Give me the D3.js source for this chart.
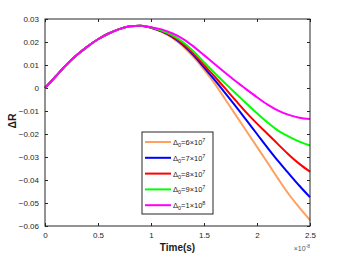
<!DOCTYPE html>
<html>
<head>
<meta charset="utf-8">
<script src="https://d3js.org/d3.v7.min.js"></script>
<style>
  body { margin: 0; background: #fff; }
  text { font-family: "Liberation Sans", Arial, sans-serif; }
</style>
</head>
<body>
<div id="chart"></div>
<script>
// time axis (units of 1e-8 s)
const time = [0, 0.1, 0.2, 0.3, 0.4, 0.5, 0.6, 0.7, 0.8, 0.9, 1.0, 1.1, 1.2, 1.3, 1.4, 1.5, 1.6, 1.7, 1.8, 1.9, 2.0, 2.1, 2.2, 2.3, 2.4, 2.5];

// shared rising part (t = 0 .. 0.9)
const rise = [0, 0.0050, 0.0100, 0.0143, 0.0180, 0.0212, 0.0237, 0.0256, 0.0268, 0.0271];

const d6 = rise.concat([0.0262, 0.0244, 0.0218, 0.0182, 0.0135, 0.0080, 0.0020, -0.0049, -0.0118, -0.0187, -0.0256, -0.0325, -0.0395, -0.0462, -0.0520, -0.0574]);
const d7 = rise.concat([0.0262, 0.0246, 0.0222, 0.0188, 0.0143, 0.0090, 0.0035, -0.0022, -0.0080, -0.0140, -0.0200, -0.0260, -0.0318, -0.0372, -0.0425, -0.0475]);
const d8 = rise.concat([0.0263, 0.0248, 0.0226, 0.0193, 0.0150, 0.0100, 0.0050, -0.0002, -0.0055, -0.0107, -0.0155, -0.0200, -0.0245, -0.0290, -0.0330, -0.0364]);
const d9 = rise.concat([0.0263, 0.0250, 0.0230, 0.0200, 0.0160, 0.0112, 0.0065, 0.0020, -0.0024, -0.0067, -0.0110, -0.0150, -0.0185, -0.0211, -0.0233, -0.0250]);
const d10 = rise.concat([0.0264, 0.0255, 0.0238, 0.0214, 0.0181, 0.0143, 0.0104, 0.0066, 0.0029, -0.0006, -0.0040, -0.0072, -0.0098, -0.0117, -0.0129, -0.0135]);

const mantissa = ["6", "7", "8", "9", "1"];
const exponent = ["7", "7", "7", "7", "8"];
const colors = ["#ffa060", "#0000ff", "#ff0000", "#00ff00", "#ff00ff"];
const seriesData = [d6, d7, d8, d9, d10];

const xTicks = [0, 0.5, 1, 1.5, 2, 2.5];
const yTicks = [0.03, 0.02, 0.01, 0, -0.01, -0.02, -0.03, -0.04, -0.05, -0.06];

const width = 343, height = 255;
const margin = {top: 19, right: 33, bottom: 29, left: 45};

const svg = d3.select("#chart").append("svg")
  .attr("width", width).attr("height", height);

const x = d3.scaleLinear().domain([0, 2.5]).range([margin.left, width - margin.right]);
const y = d3.scaleLinear().domain([-0.06, 0.03]).range([height - margin.bottom, margin.top]);

const tickFmt = d => d === 0 ? "0" : d3.format("")(+d.toFixed(2));
const axisStyle = g => {
  g.select(".domain").remove();
  g.selectAll("line").attr("stroke", "#262626");
  g.selectAll("text").attr("fill", "#262626").attr("font-size", 8);
};

svg.append("g")
  .attr("transform", `translate(0,${height - margin.bottom})`)
  .call(d3.axisBottom(x).tickValues(xTicks).tickSizeInner(-3).tickSizeOuter(0).tickPadding(6).tickFormat(tickFmt))
  .call(axisStyle);
svg.append("g")
  .attr("transform", `translate(0,${margin.top})`)
  .call(d3.axisTop(x).tickValues(xTicks).tickSizeInner(-3).tickSizeOuter(0).tickFormat(""))
  .call(axisStyle);
svg.append("g")
  .attr("transform", `translate(${margin.left},0)`)
  .call(d3.axisLeft(y).tickValues(yTicks).tickSizeInner(-3).tickSizeOuter(0).tickPadding(6).tickFormat(tickFmt))
  .call(axisStyle);
svg.append("g")
  .attr("transform", `translate(${width - margin.right},0)`)
  .call(d3.axisRight(y).tickValues(yTicks).tickSizeInner(-3).tickSizeOuter(0).tickFormat(""))
  .call(axisStyle);

// lines
const line = d3.line()
  .x((d, i) => x(time[i]))
  .y(d => y(d))
  .curve(d3.curveMonotoneX);

svg.append("g").selectAll("path")
  .data(seriesData)
  .join("path")
  .attr("d", line)
  .attr("fill", "none")
  .attr("stroke", (d, i) => colors[i])
  .attr("stroke-width", 2);

// box
svg.append("rect")
  .attr("x", margin.left).attr("y", margin.top)
  .attr("width", width - margin.left - margin.right)
  .attr("height", height - margin.top - margin.bottom)
  .attr("fill", "none").attr("stroke", "#262626").attr("stroke-width", 1);

// axis labels
svg.append("text")
  .attr("x", (margin.left + width - margin.right) / 2).attr("y", 251)
  .attr("text-anchor", "middle").attr("font-size", 10).attr("font-weight", "bold")
  .attr("fill", "#1a1a1a")
  .text("Time(s)");

svg.append("text")
  .attr("transform", "translate(16,121) rotate(-90)")
  .attr("text-anchor", "middle").attr("font-size", 10.5).attr("font-weight", "bold")
  .attr("fill", "#1a1a1a")
  .text("\u0394R");

const ex = svg.append("text")
  .attr("x", width - margin.right).attr("y", 251)
  .attr("text-anchor", "end").attr("font-size", 7).attr("fill", "#555");
ex.append("tspan").text("\u00d710");
ex.append("tspan").attr("dy", -3).attr("font-size", 5).text("-8");

// legend
const leg = svg.append("g").attr("transform", "translate(142,132)");
leg.append("rect")
  .attr("width", 71).attr("height", 82)
  .attr("fill", "#fff").attr("stroke", "#262626").attr("stroke-width", 1);

const items = leg.selectAll("g.item")
  .data(mantissa)
  .join("g")
  .attr("class", "item")
  .attr("transform", (d, i) => `translate(0,${10 + i * 15.8})`);

items.append("line")
  .attr("x1", 3).attr("x2", 29)
  .attr("stroke", (d, i) => colors[i]).attr("stroke-width", 2);

const lt = items.append("text")
  .attr("x", 31).attr("y", 3)
  .attr("font-size", 7.5).attr("fill", "#1a1a1a");
lt.append("tspan").text("\u0394");
lt.append("tspan").attr("dy", 2).attr("font-size", 5.5).text("0");
lt.append("tspan").attr("dy", -2).text(d => "=" + d + "\u00d710");
lt.append("tspan").attr("dy", -3).attr("font-size", 5.5).text((d, i) => exponent[i]);
</script>
</body>
</html>
